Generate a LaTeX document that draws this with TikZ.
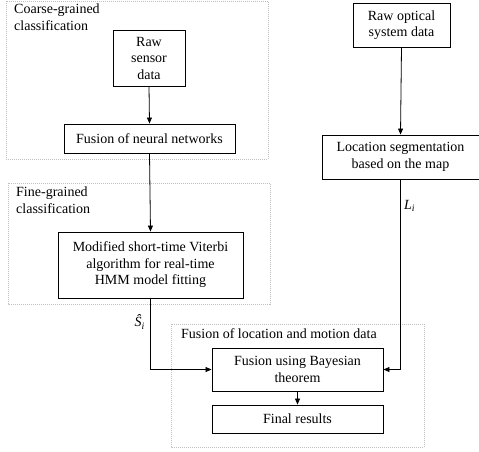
\documentclass[tikz,border=0pt]{standalone}
\usepackage{fontspec}
\setmainfont{Liberation Serif}
\usetikzlibrary{arrows.meta}
\begin{document}
\begin{tikzpicture}[x=1pt,y=-1pt,
  every node/.style={font=\fontsize{14}{16.5}\selectfont, inner sep=0pt},
  procbox/.style={draw=black, line width=0.9pt, align=center},
  groupbox/.style={draw=black!25, line width=0.7pt, dash pattern=on 1pt off 1pt},
  flow/.style={draw=black, line width=0.8pt, -{Triangle[length=6pt,width=5pt]}},
  grouplabel/.style={align=left, anchor=north west}]
\useasboundingbox (0,0) rectangle (479,451);
% group frames
\draw[groupbox] (6,1) rectangle (268,159);
\draw[groupbox] (8,183) rectangle (270,304);
\draw[groupbox] (171,324) rectangle (424,447);
\node[grouplabel] (lcoarse) at (14,4) {Coarse-grained\\classification};
\node[grouplabel] (lfine) at (16,187) {Fine-grained\\classification};
\node (lfusion) at (279,334) {Fusion of location and motion data};
% boxes
\node[procbox, minimum width=72, minimum height=56] (rawsensor) at (149,58) {Raw\\sensor\\data};
\node[procbox, minimum width=171, minimum height=29] (fusionnn) at (149.5,138.5) {Fusion of neural networks};
\node[procbox, minimum width=97, minimum height=44] (rawopt) at (401.5,25) {Raw optical\\system data};
\node[procbox, minimum width=157, minimum height=44] (locseg) at (400.5,157) {Location segmentation\\based on the map};
\node[procbox, minimum width=185, minimum height=66] (modified) at (150.5,265) {Modified short-time Viterbi\\algorithm for real-time\\HMM model fitting};
\node[procbox, minimum width=171, minimum height=43] (bayes) at (297.5,369.5) {Fusion using Bayesian\\theorem};
\node[procbox, minimum width=171, minimum height=28] (final) at (297.5,419) {Final results};
% connectors
\draw[flow] (rawsensor.south) -- (fusionnn.north);
\draw[flow] (fusionnn.south) -- (modified.north);
\draw[flow] (rawopt.south) -- (locseg.south |- locseg.north);
\draw[flow] (modified.south) |- (bayes.west);
\draw[flow] (locseg.south) |- (bayes.east);
\draw[flow] (bayes.south) -- (final.north);
% edge labels
\node[anchor=east] (shat) at (145,322) {\textit{\^{S}}\textsubscript{\textit{i}}};
\node[anchor=west] (li) at (404,206) {\textit{L}\textsubscript{\textit{i}}};
\end{tikzpicture}
\end{document}
